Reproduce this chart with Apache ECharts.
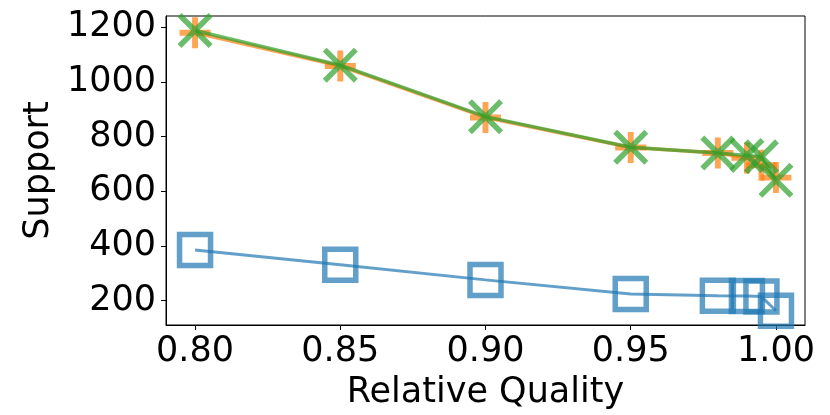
<!DOCTYPE html>
<html>
<head>
<meta charset="utf-8">
<script src="https://cdn.jsdelivr.net/npm/echarts@6/dist/echarts.min.js"></script>
<style>
html,body{margin:0;padding:0;background:#fff;}
#chart{width:830px;height:415px;}
</style>
</head>
<body>
<div id="chart"></div>
<script>
var quality = [0.80, 0.85, 0.90, 0.95, 0.98, 0.99, 0.995, 1.00];
var seriesBlue = [385, 331, 276, 224, 218, 217, 215, 163];
var seriesOrange = [1180, 1058, 870, 760, 740, 722, 695, 650];
var seriesGreen = [1188, 1061, 873, 761, 740, 731, 726, 640];
var xTicks = [0.80, 0.85, 0.90, 0.95, 1.00];
var yTicks = [200, 400, 600, 800, 1000, 1200];

function pairs(xs, ys) { return xs.map(function (x, i) { return [x, ys[i]]; }); }

var plusPath = 'path://M40.5,0 L59.5,0 L59.5,40.5 L100,40.5 L100,59.5 L59.5,59.5 L59.5,100 L40.5,100 L40.5,59.5 L0,59.5 L0,40.5 L40.5,40.5 Z';
var d = 11.1;
var xPath = 'path://M' + d + ',0 L100,' + (100 - d) + ' L' + (100 - d) + ',100 L0,' + d + ' Z ' +
            'M' + (100 - d) + ',0 L100,' + d + ' L' + d + ',100 L0,' + (100 - d) + ' Z';

var font = 'DejaVu Sans';
var fs = 35;
var chart = echarts.init(document.getElementById('chart'), null, {renderer: 'canvas'});
chart.setOption({
  animation: false,
  backgroundColor: '#ffffff',
  grid: {left: 166, right: 25, top: 16, bottom: 88, show: true, borderColor: '#000', borderWidth: 1, backgroundColor: 'transparent'},
  xAxis: {
    type: 'value', min: 0.79, max: 1.01,
    name: 'Relative Quality', nameLocation: 'middle', nameGap: 50,
    nameTextStyle: {fontFamily: font, fontSize: fs, color: '#000'},
    axisLine: {show: true, lineStyle: {color: '#000', width: 1}},
    axisTick: {show: true, length: 5, lineStyle: {color: '#000', width: 1}, customValues: xTicks},
    axisLabel: {fontFamily: font, fontSize: fs, color: '#000', margin: 9, customValues: xTicks,
      formatter: function (v) { return v.toFixed(2); }},
    splitLine: {show: false}
  },
  yAxis: {
    type: 'value', min: 111, max: 1241,
    name: 'Support', nameLocation: 'middle', nameGap: 100, nameRotate: 90,
    nameTextStyle: {fontFamily: font, fontSize: fs, color: '#000'},
    axisLine: {show: true, lineStyle: {color: '#000', width: 1}},
    axisTick: {show: true, length: 5, lineStyle: {color: '#000', width: 1}, customValues: yTicks},
    axisLabel: {fontFamily: font, fontSize: fs, color: '#000', margin: 10, customValues: yTicks,
      formatter: function (v) { return String(v); }},
    splitLine: {show: false}
  },
  series: [
    {
      type: 'line', data: pairs(quality, seriesBlue), z: 2,
      symbol: 'rect', symbolSize: 31,
      itemStyle: {color: 'rgba(0,0,0,0)', borderColor: '#1f77b4', borderWidth: 5.5, opacity: 0.7},
      lineStyle: {color: '#1f77b4', width: 3, opacity: 0.7}
    },
    {
      type: 'line', data: pairs(quality, seriesOrange), z: 3,
      symbol: plusPath, symbolSize: 31,
      itemStyle: {color: '#ff7f0e', opacity: 0.7},
      lineStyle: {color: '#ff7f0e', width: 3.5, opacity: 0.7}
    },
    {
      type: 'line', data: pairs(quality, seriesGreen), z: 4,
      symbol: xPath, symbolSize: 35,
      itemStyle: {color: '#2ca02c', opacity: 0.7},
      lineStyle: {color: '#2ca02c', width: 3.5, opacity: 0.7}
    }
  ]
});
</script>
</body>
</html>
